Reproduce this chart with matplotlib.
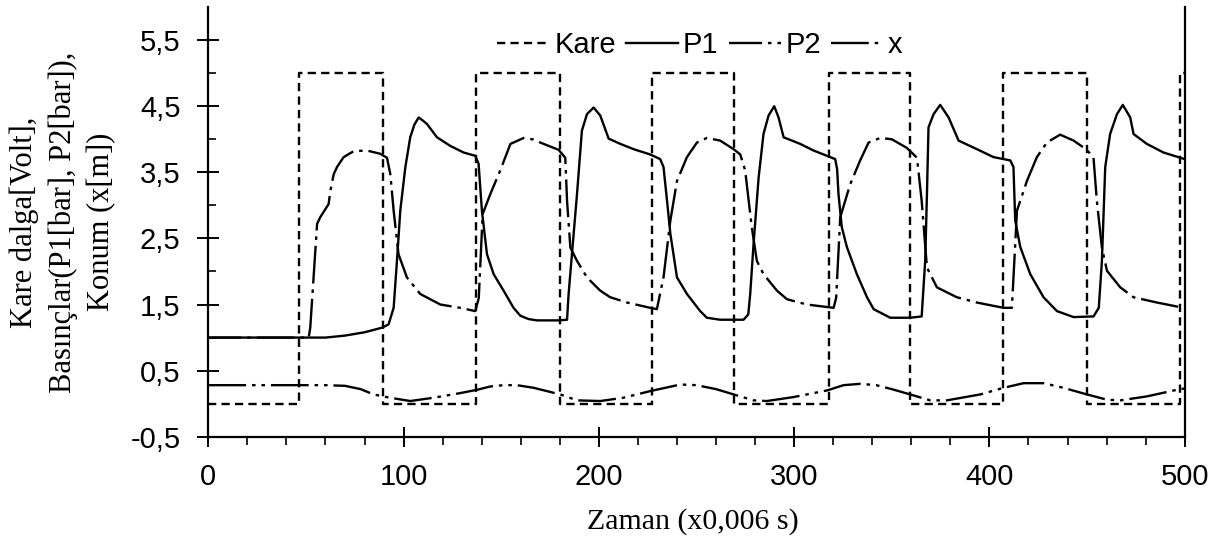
import matplotlib
matplotlib.use("Agg")
import matplotlib.pyplot as plt
from matplotlib.ticker import FixedLocator, MultipleLocator

# --- data (time in samples of 0,006 s) ---
kare_t = [0, 46.2, 46.2, 89.4, 89.4, 137.2, 137.2, 179.9, 179.9, 227.2, 227.2,
          269.0, 269.0, 317.6, 317.6, 359.4, 359.4, 407.2, 407.2, 449.9, 449.9,
          497.7, 497.7, 500]
kare_v = [0, 0, 5, 5, 0, 0, 5, 5, 0, 0, 5, 5, 0, 0, 5, 5, 0, 0, 5, 5, 0, 0, 5, 5]

p1_t = [0, 46, 60, 70, 80, 89, 92.3, 94.9, 96.6, 98.3, 100.9, 103.4, 105.5, 107.7,
        110, 112, 117.1, 123.9, 130.7, 136.7, 138.4, 140.1, 142.7, 146.1, 151.2,
        156.3, 159.8, 164, 168.3, 179.4, 183.7, 184.5, 186.2, 188.8, 191.3, 193.9,
        197.3, 200.7, 205, 211, 217.8, 226.3, 231.4, 233.1, 234.9, 236.6, 240,
        245.1, 251.9, 255.3, 262.1, 274.1, 276.5, 277.5, 279.2, 281.8, 284.3,
        286.9, 289.8, 292, 294.6, 303.1, 309.9, 316.8, 321, 322, 322.7, 324.4, 327,
        332.1, 337.3, 340.7, 349.2, 359.4, 365.3, 367.1, 368, 368.8, 371.4, 374.8,
        379.1, 384.2, 393.6, 402.1, 410.7, 412.3, 413.2, 415.8, 420.9, 427.7,
        434.6, 443.1, 453.3, 456, 457.6, 459.3, 461.8, 465.3, 468.3, 472.1, 473.8,
        480.6, 489.1, 500]
p1_v = [1.0, 1.0, 1.0, 1.03, 1.08, 1.15, 1.20, 1.45, 2.16, 2.92, 3.58, 4.03, 4.22, 4.33,
        4.28, 4.23, 4.03, 3.90, 3.80, 3.75, 3.63, 2.92, 2.26, 1.96, 1.71,
        1.45, 1.33, 1.28, 1.26, 1.26, 1.27, 1.66, 2.26, 3.17, 4.13, 4.38,
        4.48, 4.36, 4.01, 3.93, 3.85, 3.77, 3.70, 3.58, 3.07, 2.57, 1.91,
        1.66, 1.40, 1.30, 1.27, 1.27, 1.35, 1.66, 2.41, 3.42, 4.08,
        4.36, 4.50, 4.33, 4.03, 3.93, 3.83, 3.75, 3.70, 3.55, 3.17, 2.67, 2.37,
        1.96, 1.61, 1.43, 1.30, 1.30, 1.32, 2.16, 3.17, 4.18, 4.38, 4.52,
        4.33, 3.98, 3.85, 3.73, 3.68, 3.58, 2.77, 2.37, 1.96, 1.61,
        1.40, 1.31, 1.32, 1.45, 2.16, 3.58, 4.08, 4.38, 4.52, 4.33, 4.08,
        3.93, 3.80, 3.70]

p2_t = [0, 51.4, 52.2, 53.9, 55.7, 57.3, 61.6, 62.5, 64.2, 65.9, 69.3, 74.4, 81.2,
        88.1, 91.5, 93.2, 94.9, 97.4, 101.7, 108.5, 118.8, 129, 136.7, 138.5,
        140.5, 144.4, 149.5, 154.7, 161.5, 166, 171.7, 179.4, 182.8, 183.7, 185.4,
        188.8, 193.9, 200.7, 205.8, 214.4, 226.3, 229.7, 233.1, 236.6, 240, 245.1,
        250.2, 255.3, 262.1, 269, 272.4, 274.9, 278.3, 280.9, 284.3, 291.2, 296.3,
        306.5, 320.2, 321.5, 323.6, 328.7, 333.8, 338.1, 344.1, 350, 357.7, 362.9,
        365.3, 368, 373.1, 383.3, 393.6, 407.2, 411.5, 414.1, 419.2, 424.3, 429.4,
        436.2, 443.1, 449.9, 453.3, 455, 457.6, 460.2, 467, 473.8, 485.8, 499.4]
p2_v = [1.0, 1.0, 1.15, 1.91, 2.72, 2.82, 3.02, 3.22, 3.47, 3.58, 3.73, 3.82, 3.83,
        3.78, 3.72, 3.47, 2.92, 2.26, 1.91, 1.66, 1.50, 1.45, 1.40, 1.60,
        2.87, 3.17, 3.53, 3.93, 4.02, 4.00, 3.93, 3.84, 3.72, 3.07, 2.36,
        2.16, 1.91, 1.71, 1.61, 1.53, 1.45, 1.43, 1.91, 2.77, 3.37, 3.73,
        3.95, 4.02, 3.98, 3.85, 3.77, 3.53, 2.67, 2.16, 1.96, 1.71, 1.58,
        1.50, 1.45, 1.60, 2.82, 3.32, 3.68, 3.95, 4.02, 4.00, 3.87, 3.72,
        3.07, 2.06, 1.76, 1.61, 1.53, 1.45, 1.45, 2.92, 3.37, 3.73, 3.95,
        4.07, 3.98, 3.84, 3.72, 3.07, 2.36, 2.01, 1.76, 1.61, 1.53, 1.45]

x_t = [0, 60, 70, 78, 84.6, 93, 103.4, 115.4, 129, 137.6, 144.4, 151.2, 158, 166.6,
       180.2, 188.8, 200.7, 212.6, 226.3, 241.7, 250, 260, 269, 279.2, 286, 299.7,
       316.8, 325.3, 333.8, 342, 350, 359.4, 369.7, 378.2, 395.3, 407.2, 417.5,
       427.7, 437.9, 449.9, 460.2, 467, 480.6, 496, 500]
x_v = [0.28, 0.28, 0.27, 0.22, 0.14, 0.09, 0.04, 0.09, 0.16, 0.21, 0.26, 0.28, 0.28, 0.24,
       0.14, 0.05, 0.04, 0.09, 0.19, 0.29, 0.28, 0.22, 0.14, 0.05, 0.04, 0.10,
       0.20, 0.28, 0.30, 0.28, 0.22, 0.14, 0.05, 0.05, 0.14, 0.24, 0.31,
       0.31, 0.24, 0.14, 0.06, 0.05, 0.11, 0.21, 0.23]

y_major = [-0.5, 0.5, 1.5, 2.5, 3.5, 4.5, 5.5]
x_major = [0, 100, 200, 300, 400, 500]

sans = "Liberation Sans"
serif = "Liberation Serif"

fig = plt.figure(figsize=(12.24, 5.44), dpi=100)
ax = fig.add_axes([0.1702, 0.1972, 0.7977, 0.7898])

lw = 1.7
ax.plot(kare_t, kare_v, color="black", lw=lw, linestyle=(0, (3.5, 2.2)), label="Kare")
ax.plot(p1_t, p1_v, color="black", lw=lw, linestyle="-", label="P1")
ax.plot(p2_t, p2_v, color="black", lw=lw, linestyle=(2, (16, 2.5, 1.5, 2.5)), label="P2")
ax.plot(x_t, x_v, color="black", lw=lw, linestyle=(0, (16, 2.5, 1.5, 2.5, 1.5, 2.5)), label="x")

ax.set_xlim(0, 500)
ax.set_ylim(-0.5, 6)

ax.xaxis.set_major_locator(FixedLocator(x_major))
ax.xaxis.set_minor_locator(MultipleLocator(20))
ax.yaxis.set_major_locator(FixedLocator(y_major))
ax.yaxis.set_minor_locator(FixedLocator([0, 1, 2, 3, 4, 5]))
ax.set_xticklabels([str(v) for v in x_major], fontfamily=sans, fontsize=21)
ax.set_yticklabels([f"{v:.1f}".replace(".", ",") for v in y_major], fontfamily=sans, fontsize=21)

ax.tick_params(axis="x", which="major", direction="inout", length=14, width=1.4, pad=12)
ax.tick_params(axis="x", which="minor", direction="out", length=6, width=1.2)
ax.tick_params(axis="y", which="major", direction="inout", length=16, width=1.4, pad=12)
ax.tick_params(axis="y", which="minor", direction="in", length=6, width=1.2)

ax.spines["top"].set_visible(False)
for s in ("left", "bottom", "right"):
    ax.spines[s].set_linewidth(1.6)

ax.set_xlabel("Zaman (x0,006 s)", fontfamily=serif, fontsize=21.5)
ax.xaxis.label.set_va("center")
ax.xaxis.set_label_coords(0.496, -0.1985)

ax.set_ylabel("Kare dalga[Volt],\nBasınçlar(P1[bar], P2[bar]),\nKonum (x[m])",
              fontfamily=serif, fontsize=22, linespacing=1.42, multialignment="center")
ax.yaxis.label.set_va("center")
ax.yaxis.set_label_coords(-0.149, 0.5)

ax.legend(loc="center", bbox_to_anchor=(0.5036, 0.9115), ncol=4, frameon=False,
          prop={"family": sans, "size": 21}, handlelength=1.8, handletextpad=0.15,
          columnspacing=0.35, borderaxespad=0)

fig.savefig("out.png", dpi=100, facecolor="white")
